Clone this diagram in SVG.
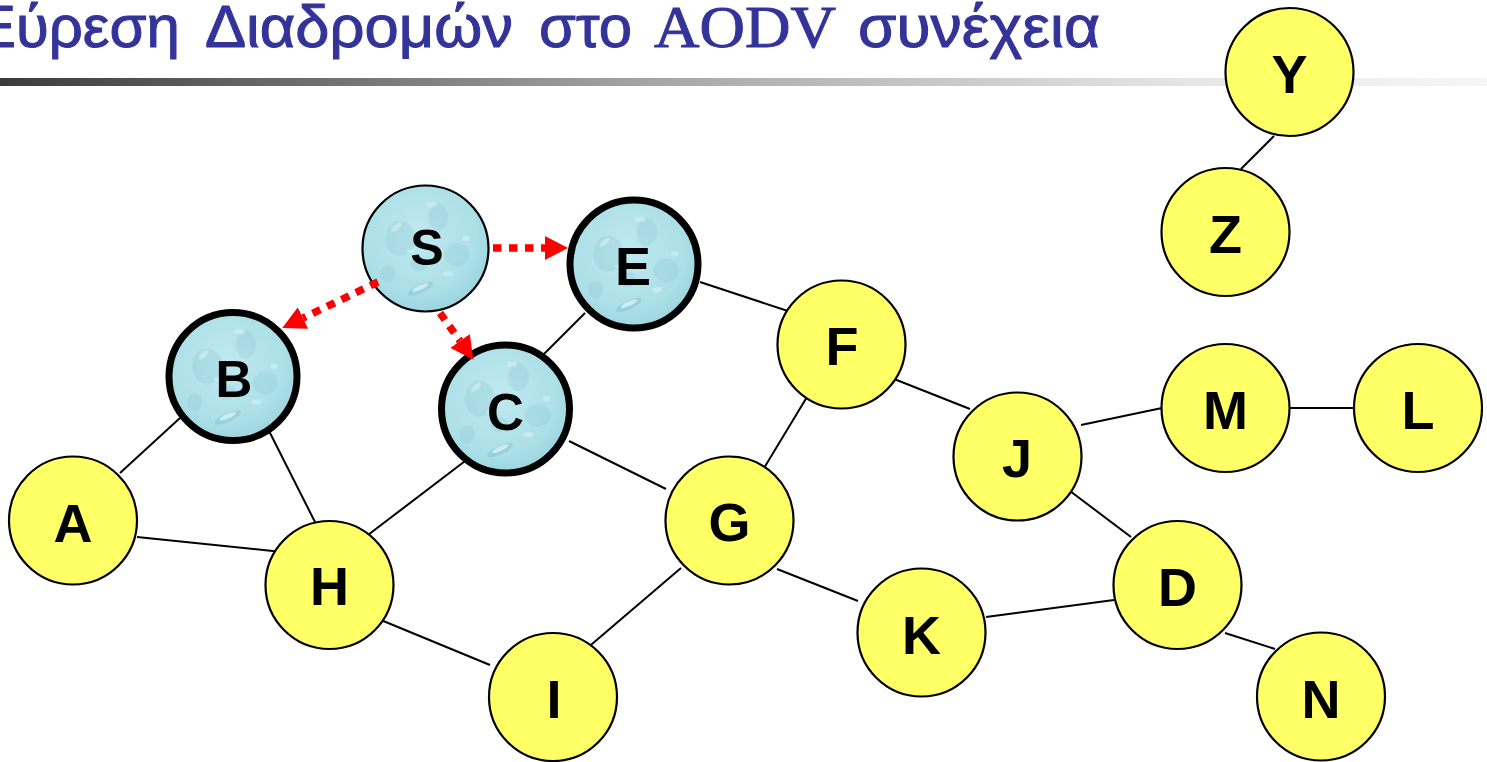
<svg xmlns="http://www.w3.org/2000/svg" width="1487" height="762" viewBox="0 0 1487 762">
  <defs>
    <linearGradient id="bar" x1="0" y1="0" x2="1" y2="0">
      <stop offset="0" stop-color="#3c3c3c"/>
      <stop offset="0.45" stop-color="#a8a8a8"/>
      <stop offset="0.8" stop-color="#e6e6e6"/>
      <stop offset="1" stop-color="#f6f6f6"/>
    </linearGradient>
    <radialGradient id="waterBase" cx="0.45" cy="0.4" r="0.65">
      <stop offset="0" stop-color="#c0e9f0"/>
      <stop offset="0.7" stop-color="#acdfe7"/>
      <stop offset="1" stop-color="#96d2dc"/>
    </radialGradient>
    <!-- water-droplet texture for visited nodes -->
    <pattern id="water" patternContentUnits="objectBoundingBox" width="1" height="1">
      <rect width="1" height="1" fill="url(#waterBase)"/>
      <g fill="#8cc7d2" opacity="0.3">
        <ellipse cx="0.3" cy="0.42" rx="0.12" ry="0.14"/>
        <ellipse cx="0.6" cy="0.25" rx="0.08" ry="0.11"/>
        <ellipse cx="0.75" cy="0.55" rx="0.1" ry="0.09"/>
        <ellipse cx="0.45" cy="0.62" rx="0.07" ry="0.06"/>
        <ellipse cx="0.2" cy="0.7" rx="0.06" ry="0.07"/>
      </g>
      <g fill="#dff5f8" opacity="0.5">
        <ellipse cx="0.27" cy="0.33" rx="0.05" ry="0.02" transform="rotate(-40 0.27 0.33)"/>
        <ellipse cx="0.55" cy="0.15" rx="0.04" ry="0.02"/>
        <ellipse cx="0.82" cy="0.42" rx="0.03" ry="0.02"/>
        <ellipse cx="0.38" cy="0.52" rx="0.03" ry="0.015"/>
        <ellipse cx="0.68" cy="0.7" rx="0.04" ry="0.02"/>
      </g>
      <ellipse cx="0.46" cy="0.82" rx="0.11" ry="0.035" fill="#84bfcc" opacity="0.45" transform="rotate(-25 0.46 0.82)"/>
      <ellipse cx="0.46" cy="0.81" rx="0.07" ry="0.018" fill="#e6f9fb" opacity="0.7" transform="rotate(-25 0.46 0.81)"/>
    </pattern>
    <marker id="redHead" markerUnits="userSpaceOnUse" markerWidth="23" markerHeight="24" refX="0" refY="12" orient="auto">
      <path d="M0,0 L23,12 L0,24 z" fill="#ff0000"/>
    </marker>
  </defs>
  <style>
    .title { font-family: "Liberation Sans", Arial, sans-serif; font-size: 60px; fill: #333399; stroke: #333399; stroke-width: 1; }
    .titleSerif { font-family: "Liberation Serif", "Times New Roman", serif; font-size: 60px; fill: #333399; stroke: #333399; stroke-width: 1; }
    .edge { stroke: #000; stroke-width: 2; fill: none; }
    .plain circle { fill: #ffff66; stroke: #000; stroke-width: 2.2; }
    .visited circle { fill: url(#water); stroke: #000; stroke-width: 7; }
    .source circle { fill: url(#water); stroke: #000; stroke-width: 2.2; }
    .node text { font-family: "Liberation Sans", Arial, sans-serif; font-weight: bold; font-size: 54px; fill: #000; text-anchor: middle; }
    .rreq { stroke: #ff0000; stroke-width: 7.5; stroke-dasharray: 8.5 7.5; fill: none; marker-end: url(#redHead); }
  </style>

  <rect width="1487" height="762" fill="#ffffff"/>

  <!-- heading -->
  <g id="heading">
    <text class="title" x="180" y="47" text-anchor="end">Εύρεση</text>
    <text class="title" x="205" y="47" textLength="308" lengthAdjust="spacingAndGlyphs">Διαδρομών</text>
    <text class="title" x="539" y="47" textLength="93" lengthAdjust="spacingAndGlyphs">στο</text>
    <text class="titleSerif" x="654" y="47" textLength="182" lengthAdjust="spacingAndGlyphs">AODV</text>
    <text class="title" x="858" y="47" textLength="242" lengthAdjust="spacingAndGlyphs">συνέχεια</text>
    <rect x="0" y="78" width="1487" height="8" fill="url(#bar)"/>
  </g>

  <!-- links -->
  <g id="connectors">
    <line class="edge" x1="1274" y1="136" x2="1241" y2="169"/>
    <line class="edge" x1="700" y1="282" x2="794" y2="313"/>
    <line class="edge" x1="585" y1="313" x2="538" y2="360"/>
    <line class="edge" x1="810" y1="392" x2="761" y2="473"/>
    <line class="edge" x1="889" y1="377" x2="970" y2="409"/>
    <line class="edge" x1="569" y1="441" x2="666" y2="489"/>
    <line class="edge" x1="473" y1="455" x2="364" y2="538"/>
    <line class="edge" x1="180" y1="418" x2="120" y2="473"/>
    <line class="edge" x1="265" y1="423" x2="315" y2="522"/>
    <line class="edge" x1="137" y1="537" x2="282" y2="552"/>
    <line class="edge" x1="376" y1="618" x2="490" y2="665"/>
    <line class="edge" x1="681" y1="568" x2="585" y2="650"/>
    <line class="edge" x1="777" y1="569" x2="858" y2="601"/>
    <line class="edge" x1="986" y1="617" x2="1114" y2="600"/>
    <line class="edge" x1="1081" y1="425" x2="1162" y2="408"/>
    <line class="edge" x1="1290" y1="408" x2="1354" y2="408"/>
    <line class="edge" x1="1066" y1="488" x2="1131" y2="537"/>
    <line class="edge" x1="1225" y1="633" x2="1275" y2="649"/>
  </g>

  <!-- nodes -->
  <g id="node-Y" class="node plain"><circle cx="1289.5" cy="72" r="64"/><text x="1289.5" y="93">Y</text></g>
  <g id="node-Z" class="node plain"><circle cx="1225.5" cy="232" r="64"/><text x="1225.5" y="253">Z</text></g>
  <g id="node-S" class="node source"><circle cx="425.5" cy="248.5" r="63"/><text x="427" y="265" style="font-size:50px">S</text></g>
  <g id="node-E" class="node visited"><circle cx="634" cy="264" r="64"/><text x="633" y="285">E</text></g>
  <g id="node-B" class="node visited"><circle cx="233" cy="376.5" r="64"/><text x="234" y="397" style="font-size:51px">B</text></g>
  <g id="node-C" class="node visited"><circle cx="505.5" cy="409" r="64"/><text x="505.5" y="430" style="font-size:51px">C</text></g>
  <g id="node-F" class="node plain"><circle cx="841.5" cy="344.5" r="64"/><text x="842" y="365">F</text></g>
  <g id="node-A" class="node plain"><circle cx="73" cy="520.5" r="64"/><text x="73" y="542">A</text></g>
  <g id="node-H" class="node plain"><circle cx="329.5" cy="585" r="64"/><text x="329.5" y="605">H</text></g>
  <g id="node-G" class="node plain"><circle cx="729.5" cy="520.5" r="64"/><text x="729.5" y="541">G</text></g>
  <g id="node-I" class="node plain"><circle cx="553" cy="697" r="64"/><text x="554" y="718">I</text></g>
  <g id="node-K" class="node plain"><circle cx="921.5" cy="632.5" r="64"/><text x="921.5" y="654">K</text></g>
  <g id="node-J" class="node plain"><circle cx="1017.5" cy="456.5" r="64"/><text x="1017" y="477">J</text></g>
  <g id="node-M" class="node plain"><circle cx="1225.5" cy="408" r="64"/><text x="1225.5" y="429">M</text></g>
  <g id="node-L" class="node plain"><circle cx="1418" cy="408" r="64"/><text x="1418" y="429">L</text></g>
  <g id="node-D" class="node plain"><circle cx="1177.5" cy="585" r="64"/><text x="1177.5" y="606">D</text></g>
  <g id="node-N" class="node plain"><circle cx="1321" cy="696.5" r="64"/><text x="1321" y="718">N</text></g>

  <!-- route request broadcast from S -->
  <g id="rreq-arrows">
    <line class="rreq" x1="493" y1="248" x2="545" y2="248"/>
    <line class="rreq" x1="440" y1="313" x2="460" y2="341"/>
    <line class="rreq" x1="378" y1="282" x2="303" y2="318"/>
  </g>
</svg>
